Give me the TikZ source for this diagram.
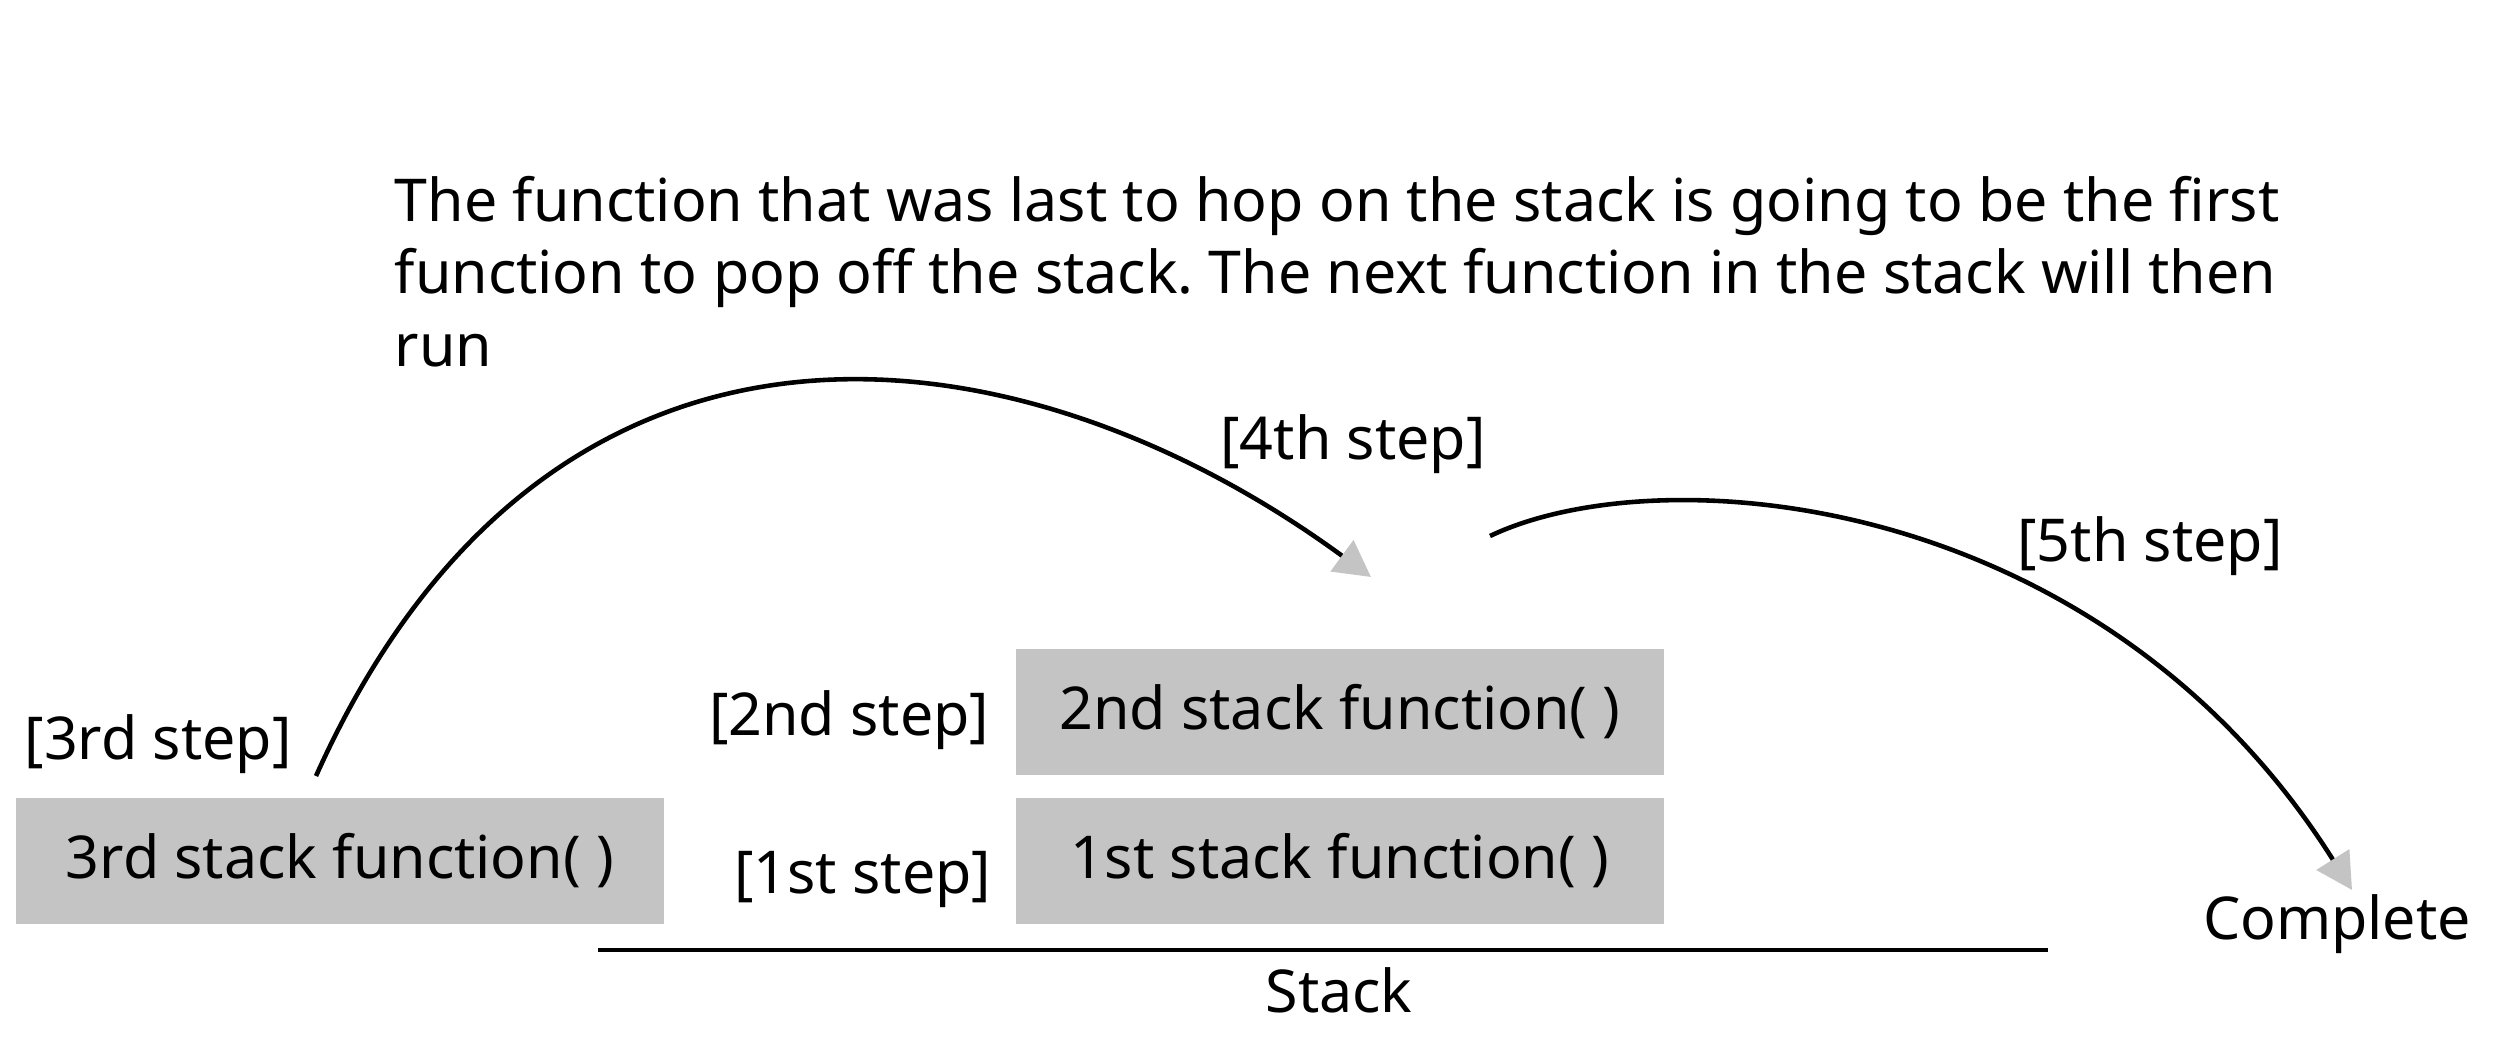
\documentclass[tikz,border=0pt]{standalone}
\usepackage{fontspec}
\setmainfont{Noto Sans}
\usetikzlibrary{arrows.meta}
\definecolor{boxgray}{HTML}{C4C4C4}
\frenchspacing
\begin{document}
\begin{tikzpicture}[x=0.01cm,y=-0.01cm,
  every node/.style={font=\fontsize{16.8pt}{20.5pt}\selectfont, inner sep=0pt},
  fnbox/.style={fill=boxgray, minimum width=6.47cm, minimum height=1.25cm},
  arc/.style={line width=1.3pt, -{Triangle[color=boxgray,length=0.36cm,width=0.38cm]}},
  stackline/.style={line width=1.2pt}]
\useasboundingbox (0,0) rectangle (2500,1046);
\node[anchor=north west, align=left] (para) at (394,176)
  {The function that was last to hop on the stack is going to be the first\\
   function to pop off the stack. The next function in the stack will then\\
   run};
\node[fnbox] (f3) at (340,861) {3rd stack function( )};
\node[fnbox] (f2) at (1340,712) {2nd stack function( )};
\node[fnbox] (f1) at (1340,861) {1st stack function( )};
\node[anchor=base west] (s3) at (24,759) {[3rd step]};
\node[anchor=base east] (s2) at (990,735) {[2nd step]};
\node[anchor=base east] (s1) at (992,893) {[1st step]};
\node[anchor=base] (s4) at (1353,459) {[4th step]};
\node[anchor=base] (s5) at (2150,561) {[5th step]};
\node[anchor=base] (done) at (2337,939) {Complete};
\node[anchor=base] (stk) at (1339,1012) {Stack};
\coordinate (sl) at (598,950);
\coordinate (sr) at (2048,950);
\draw[stackline] (sl) -- (sr);
\coordinate (a1s) at (316,776);
\coordinate (a1e) at (1371,577);
\draw[arc] (a1s) .. controls (550,255) and (1020,320) .. (a1e);
\coordinate (a2s) at (1490,536);
\coordinate (a2e) at (2352,890);
\draw[arc] (a2s) .. controls (1660,455) and (2100,490) .. (a2e);
\end{tikzpicture}
\end{document}
